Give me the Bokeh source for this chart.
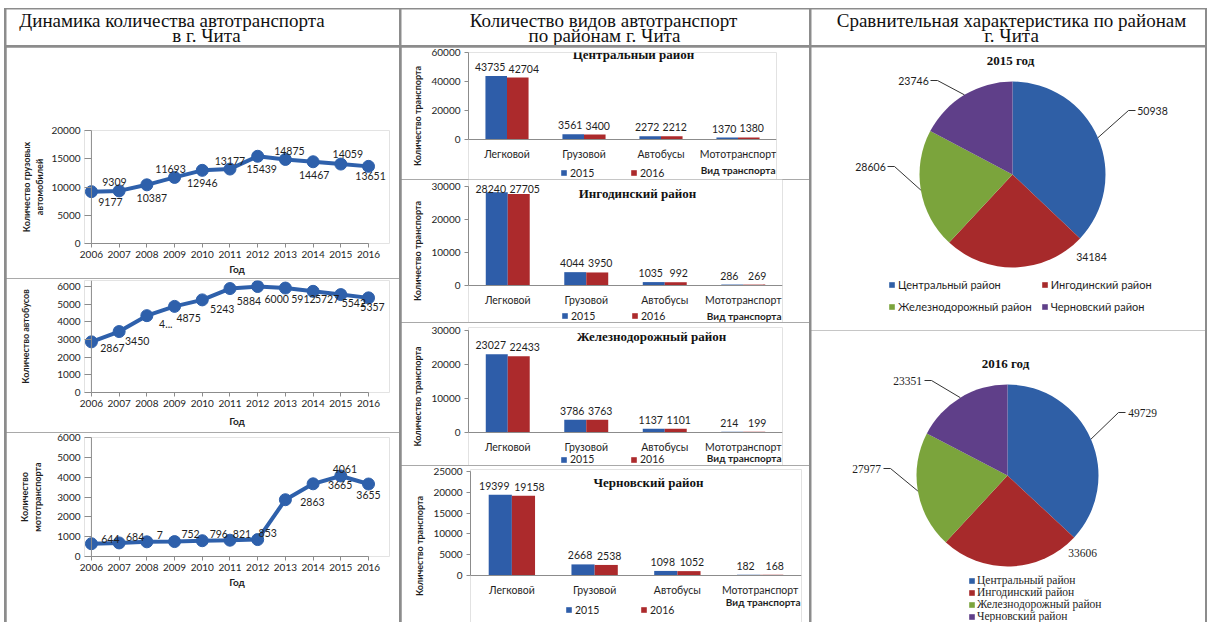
import math
from bokeh.plotting import figure
from bokeh.models import (ColumnDataSource, LabelSet, Label, Legend, LegendItem,
                          Range1d, FactorRange, FixedTicker, Span)
from bokeh.layouts import row, column
from bokeh.transform import dodge
from bokeh.core.properties import value
from bokeh.embed import file_html
from bokeh.resources import INLINE

# ---------------- data ----------------
years = [2006, 2007, 2008, 2009, 2010, 2011, 2012, 2013, 2014, 2015, 2016]
trucks = [9177, 9309, 10387, 11693, 12946, 13177, 15439, 14875, 14467, 14059, 13651]
truck_labels = ["9177", "9309", "10387", "11693", "12946", "13177", "15439", "14875", "14467", "14059", "13651"]
buses = [2867, 3450, 4350, 4875, 5243, 5884, 6000, 5912, 5727, 5542, 5357]
bus_labels = ["2867", "3450", "4...", "4875", "5243", "5884", "6000", "5912", "5727", "5542", "5357"]
moto = [644, 684, 740, 752, 796, 821, 853, 2863, 3665, 4061, 3655]
moto_labels = ["644", "684", "7", "752", "796", "821", "853", "2863", "3665", "4061", "3655"]

transport_types = ["Легковой", "Грузовой", "Автобусы", "Мототранспорт"]
central_2015 = [43735, 3561, 2272, 1370]
central_2016 = [42704, 3400, 2212, 1380]
ingoda_2015 = [28240, 4044, 1035, 286]
ingoda_2016 = [27705, 3950, 992, 269]
rail_2015 = [23027, 3786, 1137, 214]
rail_2016 = [22433, 3763, 1101, 199]
chern_2015 = [19399, 2668, 1098, 182]
chern_2016 = [19158, 2538, 1052, 168]

districts = ["Центральный район", "Ингодинский район", "Железнодорожный район", "Черновский район"]
totals_2015 = [50938, 34184, 28606, 23746]
totals_2016 = [49729, 33606, 27977, 23351]

# ---------------- styles / placement ----------------
SANS = "Lato"
SERIF = "Liberation Serif"
AX = "#8c8c8c"
TXT = "#1e1e1e"
LINE_BLUE = "#2e60ab"
BAR_BLUE = "#2e5da9"
BAR_RED = "#ac2a2c"
PIE_COLORS = ["#2f5fa6", "#a72a2b", "#7ba43c", "#5f3f89"]

truck_off = [(19, 10.6), (-4.7, -9.4), (5, 13), (-4, -8.6), (0, 12.4), (0, -8.5),
             (4, 13), (4, -8), (1, 13), (7, -10), (2, 10)]
bus_off = [(21, 6), (18, 9), (19, 8), (14, 12), (20, 9), (19, 12), (19, 12),
           (18, 11), (14, 7.5), (13, 8), (4, 9)]
moto_off = [(19, -5), (16, -6), (13, -7), (16, -8), (16.5, -7), (12, -6), (10, -7),
            (27, 2), (27, 1), (4, -6.5), (0, 10.5)]


def base_fig(w, h, **kw):
    return figure(width=w, height=h, output_backend="svg", toolbar_location=None, **kw)


def style_axis(ax, size="10px"):
    ax.axis_line_color = AX
    ax.major_tick_line_color = AX
    ax.minor_tick_line_color = None
    ax.major_tick_in = 0
    ax.major_tick_out = 4
    ax.major_label_text_font = SANS
    ax.major_label_text_font_size = size
    ax.major_label_text_color = TXT
    ax.axis_label_text_font = SANS
    ax.axis_label_text_font_style = "bold"
    ax.axis_label_text_font_size = "9px"
    ax.axis_label_text_color = TXT


def header(lines, w):
    p = base_fig(w, 36, x_range=Range1d(0, w), y_range=Range1d(0, 36),
                 x_axis_type=None, y_axis_type=None, min_border=0)
    p.outline_line_color = None
    p.text(x=[l[1] for l in lines], y=[l[2] for l in lines], text=[l[0] for l in lines],
           text_font=value(SERIF), text_font_size=value("19px"), text_align="center",
           text_baseline="middle", text_color="#111111")
    return p


def line_chart(vals, labels, offs, ylabel, ymax, ystep, yend, height, top, bottom,
               ylab_standoff, xlab_standoff):
    p = base_fig(393, height, x_range=Range1d(2005.75, 2016.757), y_range=Range1d(0, yend),
                 min_border_left=78, min_border_right=10, min_border_top=top,
                 min_border_bottom=bottom)
    p.grid.visible = False
    p.outline_line_color = None
    style_axis(p.xaxis[0])
    style_axis(p.yaxis[0])
    p.xaxis.ticker = FixedTicker(ticks=years)
    p.xaxis.bounds = (years[0], years[-1])
    p.xaxis.axis_label = "Год"
    p.xaxis.axis_label_text_font_size = "10px"
    p.xaxis.major_label_standoff = 3
    p.xaxis.axis_label_standoff = xlab_standoff
    p.yaxis.ticker = FixedTicker(ticks=list(range(0, ymax + 1, ystep)))
    p.yaxis.bounds = (0, ymax)
    p.yaxis.axis_line_color = None
    p.yaxis.major_tick_in = 7
    p.yaxis.major_tick_out = 0
    p.yaxis.axis_label = ylabel
    p.yaxis.major_label_standoff = 4
    p.yaxis.axis_label_standoff = ylab_standoff
    p.add_layout(Span(location=years[0], dimension="height", line_color=AX, line_width=1))
    src = ColumnDataSource(dict(x=years, y=vals, t=labels,
                                dx=[o[0] for o in offs], dy=[-o[1] for o in offs]))
    p.line("x", "y", source=src, line_width=4, line_color=LINE_BLUE)
    p.scatter("x", "y", source=src, size=12, fill_color=LINE_BLUE, line_color=LINE_BLUE)
    p.add_layout(LabelSet(x="x", y="y", text="t", x_offset="dx", y_offset="dy", source=src,
                          text_align="center", text_baseline="middle",
                          text_font=value(SANS), text_font_size=value("10.5px"),
                          text_color=TXT))
    return p


def bar_chart(v15, v16, title, g):
    # g: layout geometry (pixels); ymax_px / zero_px are distances from the figure top
    height, top, ymax, ystep = g["h"], g["top"], g["ymax"], g["ystep"]
    ppu = (g["zero_px"] - g["ymax_px"]) / float(ymax)
    y_end = ymax + (g["ymax_px"] - top) / ppu
    y_start = -(height - g["zero_px"]) / ppu
    frame_w = 408 - g["left"] - g["right"]
    p = base_fig(408, height, x_range=FactorRange(factors=transport_types, range_padding=0),
                 y_range=Range1d(y_start, y_end), min_border_left=g["left"],
                 min_border_right=g["right"], min_border_top=top, min_border_bottom=0)
    p.grid.visible = False
    p.outline_line_color = None
    style_axis(p.xaxis[0], "10.5px")
    style_axis(p.yaxis[0])
    p.xaxis.fixed_location = 0
    p.xaxis.major_tick_line_color = None
    p.xaxis.major_label_standoff = 4
    p.yaxis.ticker = FixedTicker(ticks=list(range(0, ymax + 1, ystep)))
    p.yaxis.bounds = (0, ymax)
    p.yaxis.axis_label = "Количество транспорта"
    p.yaxis.major_label_standoff = 4
    p.yaxis.axis_label_standoff = 5
    cap = g["label_cap"]
    spread = [6 if max(len(str(a)), len(str(b))) >= 5 else 3 for a, b in zip(v15, v16)]
    src = ColumnDataSource(dict(cat=transport_types, v15=v15, v16=v16,
                                l15=[min(v, cap) for v in v15],
                                l16=[min(v, cap) for v in v16],
                                dx15=[-s for s in spread], dx16=spread,
                                t15=[str(v) for v in v15], t16=[str(v) for v in v16]))
    r15 = p.vbar(x=dodge("cat", -0.14, range=p.x_range), top="v15", width=0.28, source=src,
                 fill_color=BAR_BLUE, line_color=None)
    r16 = p.vbar(x=dodge("cat", 0.14, range=p.x_range), top="v16", width=0.28, source=src,
                 fill_color=BAR_RED, line_color=None)
    for key, off in (("15", -0.14), ("16", 0.14)):
        p.add_layout(LabelSet(x=dodge("cat", off, range=p.x_range), y="l" + key, text="t" + key,
                              x_offset="dx" + key, y_offset=9, source=src, text_align="center",
                              text_baseline="middle", text_font=value(SANS),
                              text_font_size=value("10.5px"), text_color=TXT))
    p.add_layout(Label(x=g["title"][0], y=g["title"][1], x_units="screen", y_units="screen",
                       text=title, text_font=SERIF, text_font_style="bold",
                       text_font_size="13px", text_align="center", text_baseline="middle",
                       text_color="#111111"))
    p.add_layout(Label(x=frame_w - 1, y=g["vid"], x_units="screen", y_units="screen",
                       text="Вид транспорта", text_font=SANS, text_font_style="bold",
                       text_font_size="10px", text_align="right", text_baseline="middle",
                       text_color=TXT))
    leg = Legend(items=[LegendItem(label="2015", renderers=[r15]),
                        LegendItem(label="2016", renderers=[r16])],
                 location=g["legend"], orientation="horizontal", glyph_width=7, glyph_height=7,
                 label_text_font=SANS, label_text_font_size="10.5px", label_standoff=3,
                 label_width=40, label_height=12, spacing=g["lspacing"], padding=0, margin=0,
                 border_line_color=None, background_fill_alpha=0, label_text_color=TXT)
    p.add_layout(leg)
    return column(p)


def pie(vals, title, title_xy, cx, cy, r, w, h, dxs, dys, leader, lab_font, lab_size):
    p = base_fig(w, h, x_range=Range1d(0, w), y_range=Range1d(0, h),
                 x_axis_type=None, y_axis_type=None, min_border=0)
    p.outline_line_color = None
    total = float(sum(vals))
    cum = [sum(vals[:i]) / total for i in range(len(vals) + 1)]
    starts = [math.pi / 2 - 2 * math.pi * cum[i] for i in range(len(vals))]
    ends = [math.pi / 2 - 2 * math.pi * cum[i + 1] for i in range(len(vals))]
    src = ColumnDataSource(dict(name=districts, v=vals, start=starts, end=ends,
                                color=PIE_COLORS))
    wr = p.wedge(x=cx, y=cy, radius=r, start_angle="start", end_angle="end",
                 direction="clock", fill_color="color", line_color=None, source=src)
    lx = [cx + d for d in dxs]
    ly = [cy + d for d in dys]
    xs, ys = [], []
    for i in range(len(vals)):
        if not leader[i]:
            continue
        m = (starts[i] + ends[i]) / 2
        ex, ey = cx + r * math.cos(m), cy + r * math.sin(m)
        s = 1 if dxs[i] > 0 else -1
        xs.append([ex, lx[i] - s * 24, lx[i] - s * 17])
        ys.append([ey, ly[i], ly[i]])
    p.multi_line(xs, ys, line_color="#333333", line_width=1)
    p.text(x=lx, y=ly, text=[str(v) for v in vals], text_font=value(lab_font),
           text_font_size=value(lab_size), text_align="center", text_baseline="middle",
           text_color=TXT)
    p.text(x=[title_xy[0]], y=[title_xy[1]], text=[title], text_font=value(SERIF),
           text_font_style="bold", text_font_size=value("13px"), text_align="center",
           text_baseline="middle", text_color="#111111")
    items = [LegendItem(label=districts[i], renderers=[wr], index=i) for i in range(len(vals))]
    return p, items


# ---------------- headers ----------------
h1 = header([("Динамика количества автотранспорта", 165.5, 25.5), ("в г. Чита", 200, 10.5)], 393)
h2 = header([("Количество видов автотранспорт", 202, 25.5), ("по районам г. Чита", 203, 10.5)], 408)
h3 = header([("Сравнительная характеристика по районам", 200, 25.5), ("г. Чита", 200, 10.5)], 394)

# ---------------- left column ----------------
f1 = line_chart(trucks, truck_labels, truck_off, "Количество грузовых\nавтомобилей",
                20000, 5000, 20000, 231, 83, 35, 3, 2)
f2 = line_chart(buses, bus_labels, bus_off, "Количество автобусов",
                6000, 1000, 6340, 154, 2, 40, 23, 5)
f3 = line_chart(moto, moto_labels, moto_off, "Количество\nмототранспорта",
                6000, 1000, 6000, 190, 5, 66, 11, 2)

# ---------------- middle column ----------------
geo_a = dict(h=132, top=5, ymax=60000, ystep=20000, ymax_px=5, zero_px=92, left=67, right=33,
             title=(165, 125), legend=(92, 0.5), lspacing=20, vid=10, label_cap=60000)
geo_b = dict(h=143, top=0, ymax=30000, ystep=10000, ymax_px=7, zero_px=106, left=67, right=27,
             title=(169, 128.7), legend=(93, 0.5), lspacing=20, vid=6.5, label_cap=26600)
geo_c = dict(h=143, top=5, ymax=30000, ystep=10000, ymax_px=8, zero_px=110, left=67, right=27,
             title=(183, 129), legend=(92, 0), lspacing=20, vid=7.5, label_cap=30000)
geo_d = dict(h=157, top=4, ymax=25000, ystep=5000, ymax_px=6, zero_px=110, left=69, right=8,
             title=(178, 140.3), legend=(95, 6.2), lspacing=25, vid=20.3, label_cap=25000)

b1 = bar_chart(central_2015, central_2016, "Центральный район", geo_a)
b2 = bar_chart(ingoda_2015, ingoda_2016, "Ингодинский район", geo_b)
b3 = bar_chart(rail_2015, rail_2016, "Железнодорожный район", geo_c)
b4 = bar_chart(chern_2015, chern_2016, "Черновский район", geo_d)

# ---------------- right column ----------------
pie_lab_dx_2015 = [140, 79, -142, -99]
pie_lab_dy_2015 = [64, -82, 8, 94]
pie_lab_dx_2016 = [135, 75, -141, -100]
pie_lab_dy_2016 = [63, -77, 7, 95]
pie_leader = [True, False, True, True]

p1, items1 = pie(totals_2015, "2015 год", (199, 270), 201, 156, 93, 394, 283,
                 pie_lab_dx_2015, pie_lab_dy_2015, pie_leader, SANS, "10.5px")
p1.add_layout(Legend(items=items1, location=(77, 17.5), orientation="horizontal", ncols=2,
                     glyph_width=7, glyph_height=7, label_text_font=SANS,
                     label_text_font_size="11px", label_standoff=3, label_width=133,
                     label_height=12, spacing=9, padding=0, margin=0,
                     border_line_color=None, background_fill_alpha=0, label_text_color=TXT))

p2, items2 = pie(totals_2016, "2016 год", (194, 259), 196, 147, 91, 394, 292,
                 pie_lab_dx_2016, pie_lab_dy_2016, pie_leader, SERIF, "11.5px")
p2.add_layout(Legend(items=items2, location=(157, 0), orientation="vertical",
                     glyph_width=7, glyph_height=7, label_text_font=SERIF,
                     label_text_font_size="11.5px", label_standoff=2, label_height=10,
                     spacing=0, padding=0, margin=0, border_line_color=None,
                     background_fill_alpha=0, label_text_color=TXT))

# ---------------- layout ----------------
col1 = column(h1, column(f1, f2, f3, spacing=0), spacing=2)
col2 = column(h2, column(b1, b2, b3, b4, spacing=0), spacing=2)
col3 = column(h3, column(p1, p2, spacing=0), spacing=2)
layout = row(col1, col2, col3, spacing=2, margin=(8, 0, 0, 4),
             styles={"background-color": "#8c8c8c", "padding": "1px 2px 0px 2px"})

open("out.html", "w").write(file_html(layout, INLINE, title="Автотранспорт г. Чита"))
